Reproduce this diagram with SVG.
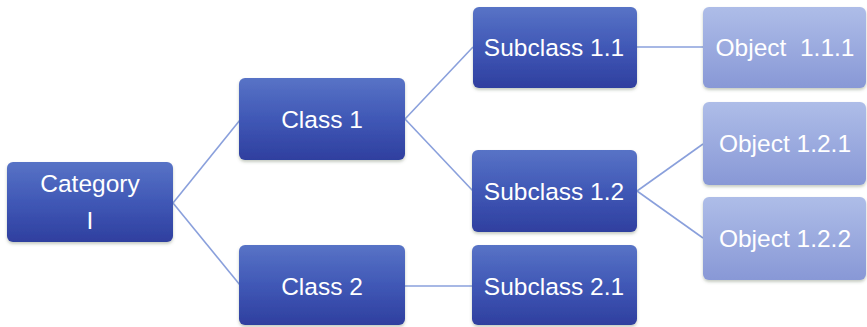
<svg xmlns="http://www.w3.org/2000/svg" width="867" height="327" viewBox="0 0 867 327">
<style>
.dark{fill:url(#gDark);filter:url(#sh)}
.light{fill:url(#gLight);filter:url(#sh)}
.t{font-family:"Liberation Sans",Arial,sans-serif;font-size:24.5px;fill:#ffffff;text-anchor:middle;dominant-baseline:central}
.c{stroke:#8aa0dc;stroke-width:1.6;fill:none}
</style>
<defs>
<linearGradient id="gDark" x1="0" y1="0" x2="0" y2="1">
<stop offset="0" stop-color="#5873c6"/>
<stop offset="0.5" stop-color="#4058b6"/>
<stop offset="1" stop-color="#2f3f9f"/>
</linearGradient>
<linearGradient id="gLight" x1="0" y1="0" x2="0" y2="1">
<stop offset="0" stop-color="#aebde8"/>
<stop offset="1" stop-color="#8898d6"/>
</linearGradient>
<filter id="sh" x="-5%" y="-5%" width="110%" height="120%">
<feDropShadow dx="0" dy="2" stdDeviation="1.5" flood-color="#5a6a50" flood-opacity="0.35"/>
</filter>
</defs>
<rect width="867" height="327" fill="#ffffff"/>
<g id="connectors">
<line class="c" x1="173" y1="203" x2="240" y2="120"/>
<line class="c" x1="173" y1="203" x2="240" y2="285"/>
<line class="c" x1="405" y1="119" x2="473" y2="47"/>
<line class="c" x1="405" y1="119" x2="473" y2="191"/>
<line class="c" x1="405" y1="286" x2="472" y2="286"/>
<line class="c" x1="637" y1="47" x2="703" y2="47"/>
<line class="c" x1="637" y1="191" x2="703" y2="144"/>
<line class="c" x1="637" y1="191" x2="703" y2="238"/>
</g>
<g id="category">
<rect class="dark" x="7" y="162" width="166" height="80" rx="6"/>
<text class="t" x="90" y="183">Category</text>
<text class="t" x="90" y="220">I</text>
</g>
<g id="class1">
<rect class="dark" x="239" y="78" width="166" height="82" rx="6"/>
<text class="t" x="322" y="119">Class 1</text>
</g>
<g id="class2">
<rect class="dark" x="239" y="245" width="166" height="80" rx="6"/>
<text class="t" x="322" y="286">Class 2</text>
</g>
<g id="subclass11">
<rect class="dark" x="473" y="7" width="164" height="81" rx="6"/>
<text class="t" x="554" y="47">Subclass 1.1</text>
</g>
<g id="subclass12">
<rect class="dark" x="472" y="150" width="165" height="82" rx="6"/>
<text class="t" x="554" y="191">Subclass 1.2</text>
</g>
<g id="subclass21">
<rect class="dark" x="472" y="245" width="165" height="80" rx="6"/>
<text class="t" x="554" y="286">Subclass 2.1</text>
</g>
<g id="object111">
<rect class="light" x="703" y="7" width="163" height="81" rx="6"/>
<text class="t" x="785" y="47" xml:space="preserve">Object  1.1.1</text>
</g>
<g id="object121">
<rect class="light" x="703" y="102" width="163" height="83" rx="6"/>
<text class="t" x="785" y="143">Object 1.2.1</text>
</g>
<g id="object122">
<rect class="light" x="703" y="197" width="163" height="83" rx="6"/>
<text class="t" x="785" y="238">Object 1.2.2</text>
</g>
</svg>
